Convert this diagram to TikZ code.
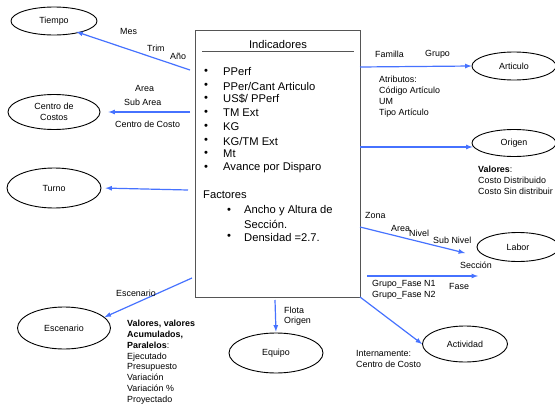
\documentclass[tikz,border=0pt]{standalone}
\usepackage{fontspec}
\setmainfont{Liberation Sans}
\usepackage{tikz}
\usetikzlibrary{arrows,shapes.geometric}

\definecolor{linkblue}{RGB}{70,114,255}
\definecolor{boxgray}{RGB}{85,85,85}

\tikzset{
  ent/.style={draw,ellipse,line width=0.9pt,inner sep=0pt,font=\fontsize{8.9}{10.8}\selectfont},
  lbl/.style={anchor=west,inner sep=0pt,font=\fontsize{8.9}{10.8}\selectfont},
  biglbl/.style={anchor=west,inner sep=0pt,font=\fontsize{11.2}{14}\selectfont},
  link/.style={draw=linkblue,line width=1.2pt,-latex}
}

\begin{document}
\begin{tikzpicture}[x=1pt,y=-1pt]
      \useasboundingbox (0,0) rectangle (555,407);
      % central box
      \node (ind) [draw=boxgray,line width=0.9pt,minimum width=165pt,minimum height=267pt,inner sep=0pt] at (277.5,163.5) {};
      \node (indT) [font=\fontsize{11.2}{14}\selectfont] at (278,44) {Indicadores};
      \draw[boxgray] (202,51) -- (354,51);
      \node (b1) [biglbl] at (204,72) {\textbullet};  \node (i1) [biglbl] at (223,72) {PPerf};
      \node (b2) [biglbl] at (204,86) {\textbullet};  \node (i2) [biglbl] at (223,86) {PPer/Cant Articulo};
      \node (b3) [biglbl] at (204,99) {\textbullet};  \node (i3) [biglbl] at (223,99) {US\$/ PPerf};
      \node (b4) [biglbl] at (204,113) {\textbullet}; \node (i4) [biglbl] at (223,113) {TM Ext};
      \node (b5) [biglbl] at (204,127) {\textbullet}; \node (i5) [biglbl] at (223,127) {KG};
      \node (b6) [biglbl] at (204,141) {\textbullet}; \node (i6) [biglbl] at (223,141) {KG/TM Ext};
      \node (b7) [biglbl] at (204,154) {\textbullet}; \node (i7) [biglbl] at (223,154) {Mt};
      \node (b8) [biglbl] at (204,168) {\textbullet}; \node (i8) [biglbl] at (223,168) {Avance por Disparo};
      \node (fac) [biglbl] at (203,195) {Factores};
      \node (f1b) [biglbl] at (227,211) {\textbullet}; \node (f1) [biglbl] at (244,211) {Ancho y Altura de};
      \node (f1c) [biglbl] at (244,224) {Sección.};
      \node (f2b) [biglbl] at (227,237) {\textbullet}; \node (f2) [biglbl] at (244,237) {Densidad =2.7.};
      % entities
      \node (ti) [ent,minimum width=86pt,minimum height=28pt] at (54,21) {Tiempo};
      \node (cc) [ent,minimum width=92pt,minimum height=35pt,align=center] at (54,112) {Centro de\\Costos};
      \node (tu) [ent,minimum width=94pt,minimum height=40pt] at (54,188) {Turno};
      \node (es) [ent,minimum width=93pt,minimum height=42pt] at (64,328) {Escenario};
      \node (eq) [ent,minimum width=94pt,minimum height=40pt] at (276,353) {Equipo};
      \node (ac) [ent,minimum width=85pt,minimum height=36pt] at (465,344) {Actividad};
      \node (la) [ent,minimum width=82pt,minimum height=29pt] at (518,247) {Labor};
      \node (ar) [ent,minimum width=84pt,minimum height=28pt] at (514,66) {Articulo};
      \node (or) [ent,minimum width=84pt,minimum height=27pt] at (514,143) {Origen};
      % connectors
      \coordinate (tiS) at (190,70);
      \coordinate (ccS) at (190,112);
      \coordinate (tuS) at (188,190);
      \coordinate (esS) at (192,278);
      \coordinate (eqS) at (275,300);
      \coordinate (arS) at (360,67);
      \coordinate (orS) at (360,147);
      \coordinate (laS) at (360,227);
      \coordinate (laE) at (465,253);
      \coordinate (fsS) at (367,276);
      \coordinate (fsE) at (478,276);
      \coordinate (acS) at (360,297);
      \draw[link,shorten >=-3pt] (tiS) -- (ti.-25);
      \draw[link,shorten >=8pt] (ccS) -- (cc.east);
      \draw[link,shorten >=4pt] (tuS) -- (tu.east);
      \draw[link] (esS) -- (es.15);
      \draw[link,shorten >=1pt] (eqS) -- (eq.north);
      \draw[link] (arS) -- (ar.west);
      \draw[link,shorten >=-1pt] (orS) -- (orS -| or.west);
      \draw[link] (laS) -- (laE);
      \draw[link] (fsS) -- (fsE);
      \draw[link] (acS) -- (ac.west);
      % labels
      \node (lMes) [lbl] at (120,31) {Mes};
      \node (lTrim) [lbl] at (147,48) {Trim};
      \node (lAno) [lbl] at (170,56) {Año};
      \node (lArea) [lbl] at (135,88) {Area};
      \node (lSubA) [lbl] at (124,102) {Sub Area};
      \node (lCdC) [lbl] at (115,124) {Centro de Costo};
      \node (lEsc) [lbl] at (116,293) {Escenario};
      \node (lVal) [lbl,anchor=north west,align=left] at (127,320)
        {\textbf{Valores, valores}\\\textbf{Acumulados,}\\\textbf{Paralelos}:\\Ejecutado\\Presupuesto\\Variación\\Variación \%\\Proyectado};
      \node (lFlo) [lbl] at (284,310) {Flota};
      \node (lOri) [lbl] at (284,321) {Origen};
      \node (lFam) [lbl] at (375,54) {Familla};
      \node (lGru) [lbl] at (425,54) {Grupo};
      \node (lAtr) [lbl,anchor=north west,align=left] at (379,76)
        {Atributos:\\Código Artículo\\UM\\Tipo Artículo};
      \node (lOVal) [lbl,anchor=north west,align=left] at (478,166)
        {\textbf{Valores}:\\Costo Distribuido\\Costo Sin distribuir};
      \node (lZon) [lbl] at (365,215) {Zona};
      \node (lAr2) [lbl] at (391,228) {Area};
      \node (lNiv) [lbl] at (409,233) {Nivel};
      \node (lSubN) [lbl] at (433,240) {Sub Nivel};
      \node (lSec) [lbl] at (460,265) {Sección};
      \node (lGF) [lbl,anchor=north west,align=left] at (372,280) {Grupo\_Fase N1\\Grupo\_Fase N2};
      \node (lFas) [lbl] at (449,286) {Fase};
      \node (lInt) [lbl,anchor=north west,align=left] at (356,350) {Internamente:\\Centro de Costo};
    \end{tikzpicture}
\end{document}
